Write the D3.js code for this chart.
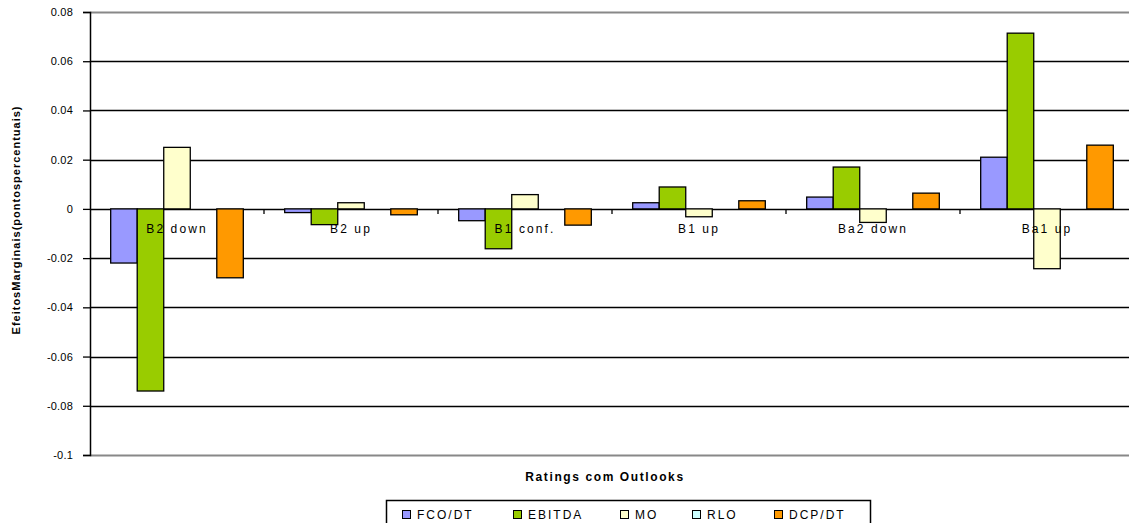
<!doctype html>
<html>
<head>
    <style>
        body { margin: 0; background: #fff; }
        text { font-family: Arial, "Liberation Sans", sans-serif; }
    </style>
    <script src="https://d3js.org/d3.v7.min.js"></script>
</head>
<body>
    <svg width="1129" height="523"></svg>
    <script>
        var categories = ["B2 down", "B2 up", "B1 conf.", "B1 up", "Ba2 down", "Ba1 up"];
        var seriesNames = ["FCO/DT", "EBITDA", "MO", "RLO", "DCP/DT"];
        var colors = ["#9999ff", "#99cc00", "#ffffcc", "#ccffff", "#ff9900"];

        var fcoDt  = [-0.022, -0.0015, -0.0048, 0.0025, 0.0048, 0.021];
        var ebitda = [-0.074, -0.0064, -0.0162, 0.0089, 0.017, 0.0714];
        var mo     = [0.025, 0.0025, 0.0058, -0.0032, -0.0055, -0.0243];
        var rlo    = [0, 0, 0, 0, 0, 0];
        var dcpDt  = [-0.028, -0.0024, -0.0066, 0.0033, 0.0064, 0.0259];
        var values = [fcoDt, ebitda, mo, rlo, dcpDt];

        var yTicks = [0.08, 0.06, 0.04, 0.02, 0, -0.02, -0.04, -0.06, -0.08, -0.1];

        var svg = d3.select("svg"),
            margin = { top: 12, left: 90, right: -5, bottom: 68 },
            width = 1129 - margin.left - margin.right,
            height = 523 - margin.top - margin.bottom;

        var g = svg.append("g")
            .attr("transform", "translate(" + margin.left + "," + margin.top + ")");

        // scales
        var x0 = d3.scaleBand().domain(categories).range([0, width]).padding(0);
        var x1 = d3.scaleBand().domain(seriesNames).range([0, x0.bandwidth()])
            .paddingInner(0).paddingOuter(0.78);
        var y = d3.scaleLinear().domain([-0.1, 0.08]).range([height, 0]);

        // gridlines
        g.selectAll(".grid")
            .data(yTicks)
            .enter().append("line")
            .attr("x1", 0).attr("x2", width)
            .attr("y1", function (d) { return Math.round(y(d)) + 0.5; })
            .attr("y2", function (d) { return Math.round(y(d)) + 0.5; })
            .attr("stroke", function (d) { return (d === 0.08 || d === -0.1) ? "#888" : "#000"; })
            .attr("stroke-width", function (d) { return (d === 0.08 || d === -0.1) ? 2 : 1.3; });

        // bars
        var groups = g.selectAll(".cat")
            .data(categories)
            .enter().append("g")
            .attr("transform", function (d) { return "translate(" + x0(d) + ",0)"; });

        groups.selectAll("rect")
            .data(function (d, ci) {
                return seriesNames.map(function (s, si) {
                    return { key: s, value: values[si][ci], color: colors[si] };
                });
            })
            .enter().append("rect")
            .attr("x", function (d) { return x1(d.key); })
            .attr("width", x1.bandwidth())
            .attr("y", function (d) { return y(Math.max(0, d.value)); })
            .attr("height", function (d) { return Math.abs(y(d.value) - y(0)); })
            .attr("fill", function (d) { return d.color; })
            .attr("stroke", "#000")
            .attr("stroke-width", 1.3)
            .attr("display", function (d) { return d.value === 0 ? "none" : null; });

        // category ticks on zero line
        g.selectAll(".ctick")
            .data(categories.slice(1))
            .enter().append("line")
            .attr("x1", function (d) { return x0(d); })
            .attr("x2", function (d) { return x0(d); })
            .attr("y1", y(0)).attr("y2", y(0) + 5)
            .attr("stroke", "#000").attr("stroke-width", 1.3);

        // category labels
        g.selectAll(".clabel")
            .data(categories)
            .enter().append("text")
            .attr("x", function (d) { return x0(d) + x0.bandwidth() / 2; })
            .attr("y", y(0) + 24)
            .attr("text-anchor", "middle")
            .style("font-size", "12px")
            .style("letter-spacing", "2.1px")
            .attr("fill", "#000")
            .text(function (d) { return d; });

        // y axis
        var yAxis = g.append("g")
            .call(d3.axisLeft(y).tickValues(yTicks).tickSize(7).tickPadding(10)
                .tickFormat(function (d) { return String(+d.toFixed(2)); }));
        yAxis.select(".domain").attr("stroke", "#000").attr("stroke-width", 1.5);
        yAxis.selectAll(".tick line").attr("stroke", "#000").attr("stroke-width", 1.3);
        yAxis.selectAll(".tick text")
            .style("font-size", "11px")
            .style("font-family", "Arial, 'Liberation Sans', sans-serif")
            .style("letter-spacing", "0.2px")
            .attr("fill", "#000");

        // axis titles
        svg.append("text")
            .attr("transform", "translate(20,220) rotate(-90)")
            .attr("text-anchor", "middle")
            .style("font-size", "11px")
            .style("font-weight", "bold")
            .style("letter-spacing", "1px")
            .style("word-spacing", "-4px")
            .text("Efeitos Marginais (pontos percentuais)");

        svg.append("text")
            .attr("x", 605).attr("y", 481)
            .attr("text-anchor", "middle")
            .style("font-size", "12px")
            .style("font-weight", "bold")
            .style("letter-spacing", "1.6px")
            .text("Ratings com Outlooks");

        // legend
        var legend = svg.append("g");
        legend.append("rect")
            .attr("x", 386.5).attr("y", 500.5)
            .attr("width", 484).attr("height", 30)
            .attr("fill", "#fff").attr("stroke", "#000").attr("stroke-width", 1.5);

        var legendX = [402, 513, 620, 692, 774];
        var items = legend.selectAll(".item")
            .data(seriesNames)
            .enter().append("g")
            .attr("transform", function (d, i) { return "translate(" + legendX[i] + ",510)"; });
        items.append("rect")
            .attr("x", 0.5).attr("y", 0.5)
            .attr("width", 8).attr("height", 8)
            .attr("fill", function (d, i) { return colors[i]; })
            .attr("stroke", "#000").attr("stroke-width", 1);
        items.append("text")
            .attr("x", 15).attr("y", 9)
            .style("font-size", "12px")
            .style("letter-spacing", "2px")
            .text(function (d) { return d; });
    </script>
</body>
</html>
